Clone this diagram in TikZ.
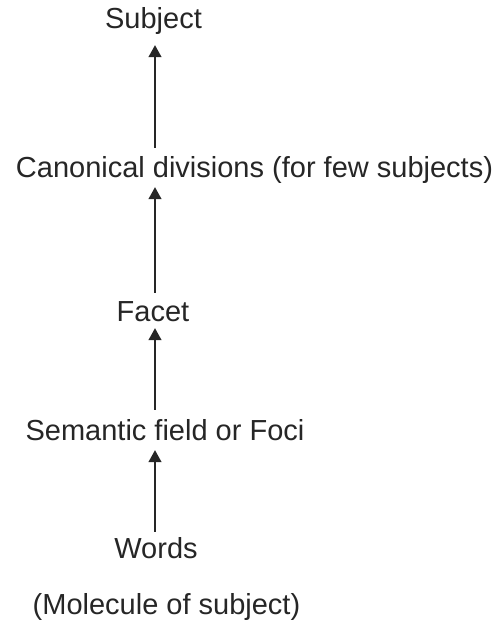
\documentclass[tikz,border=0pt]{standalone}
\usepackage{fontspec}
\setmainfont{Liberation Sans}
\usetikzlibrary{arrows.meta}

\tikzset{
	lbl/.style = {anchor=base, inner sep=0pt, text height=21pt, text depth=6pt,
		font=\fontsize{29}{34}\selectfont, text=black!85},
	uparrow/.style = {-{Triangle[length=12pt,width=13pt]}, line width=1.3pt, draw=black!85},
}

\begin{document}
\begin{tikzpicture}[x=1pt, y=-1pt]
%
	\useasboundingbox (0,0) rectangle (499,625);
	\coordinate (axis) at (155,0);
	\node[lbl] (subject) at (153.5,28) {Subject};
	\node[lbl] (canonical) at (254.5,177) {Canonical divisions (for few subjects)};
	\node[lbl] (facet) at (153,321) {Facet};
	\node[lbl] (semantic) at (165,440) {Semantic field or Foci};
	\node[lbl] (words) at (156,558) {Words};
	\node[lbl] (molecule) at (166.5,614) {(Molecule of subject)};
%
	\draw[uparrow, shorten <=8pt, shorten >=11pt] (canonical.north -| axis) -- (subject.south -| axis);
	\draw[uparrow, shorten <=7pt, shorten >=4pt] (facet.north -| axis) -- (canonical.south -| axis);
	\draw[uparrow, shorten <=9pt, shorten >=1pt] (semantic.north -| axis) -- (facet.south -| axis);
	\draw[uparrow, shorten <=5pt, shorten >=4pt] (words.north -| axis) -- (semantic.south -| axis);
%
\end{tikzpicture}
\end{document}
